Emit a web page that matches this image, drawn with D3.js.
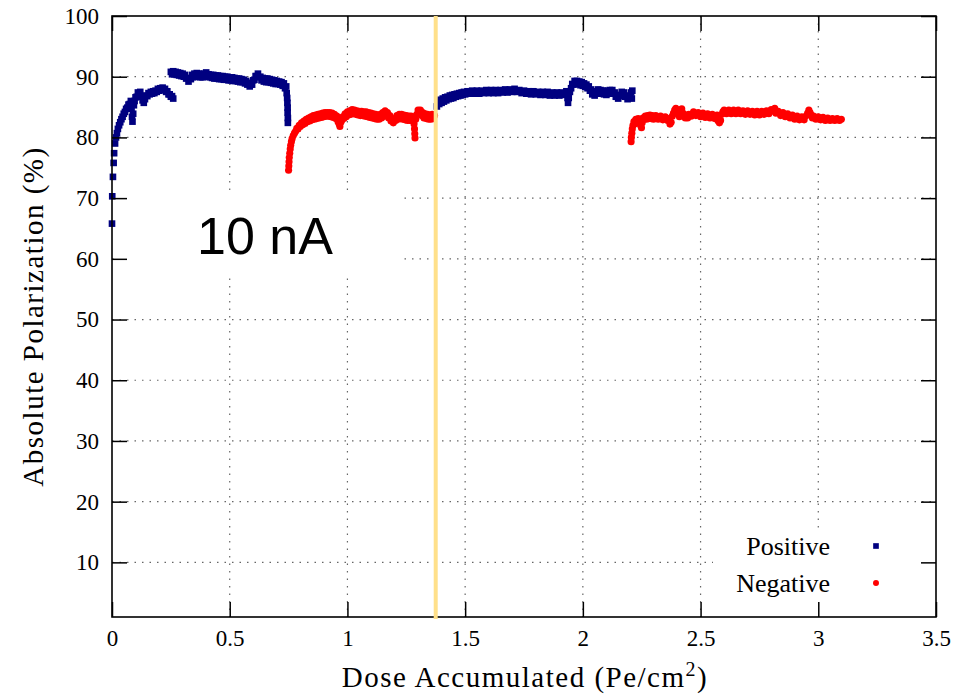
<!DOCTYPE html>
<html>
<head>
<meta charset="utf-8">
<script src="https://cdn.jsdelivr.net/npm/d3@7"></script>
<style>
  body { margin: 0; background: #fff; }
  svg { display: block; }
</style>
</head>
<body>
<svg id="chart"></svg>
<script>
// dose accumulated (Pe/cm^2), absolute polarization (%)
const positiveRun1 = [
  [0.000,65.8],[0.001,70.3],[0.004,73.5],[0.007,75.8],[0.009,77.4],[0.013,79.0],[0.017,80.0],[0.021,80.7],
  [0.025,81.4],[0.030,82.0],[0.035,82.5],[0.040,83.0],[0.045,83.4],[0.050,83.9],[0.055,84.2],[0.060,84.7],
  [0.065,84.9],[0.070,85.4],[0.075,85.5],[0.080,86.0],[0.083,84.7],[0.085,83.4],[0.087,82.6],[0.090,83.9],
  [0.093,85.3],[0.096,86.0],[0.100,86.6],[0.105,86.7],[0.110,87.4],[0.115,87.1],[0.120,87.5],[0.125,86.7],
  [0.130,86.1],[0.135,85.7],[0.140,86.3],[0.145,86.9],[0.150,86.8],[0.155,87.3],[0.160,87.1],[0.165,87.5],
  [0.170,87.2],[0.175,87.6],[0.180,87.3],[0.185,87.7],[0.190,87.5],[0.195,88.0],[0.200,87.7],[0.205,88.1],
  [0.210,87.8],[0.215,88.2],[0.220,87.8],[0.225,88.0],[0.230,87.5],[0.235,87.6],[0.240,87.1],[0.245,87.1],
  [0.250,86.7],[0.255,86.8],[0.260,86.4],
  [0.250,90.8],[0.255,90.4],[0.260,90.9],[0.265,90.4],[0.270,90.8],[0.275,90.3],[0.280,90.7],[0.285,90.2],
  [0.290,90.6],[0.295,90.1],[0.300,90.5],[0.305,90.0],[0.310,90.3],[0.315,89.7],[0.320,89.8],[0.325,89.2],
  [0.330,89.7],[0.335,89.6],[0.340,90.3],[0.345,89.9],[0.350,90.5],[0.355,90.0],[0.360,90.6],[0.365,90.0],
  [0.370,90.5],[0.375,89.9],[0.380,90.4],[0.385,89.9],[0.390,90.5],[0.395,90.1],[0.400,90.7],[0.405,90.0],
  [0.410,90.4],[0.415,89.9],[0.420,90.3],[0.425,89.8],[0.430,90.3],[0.435,89.7],[0.440,90.2],[0.445,89.7],
  [0.450,90.2],[0.455,89.6],[0.460,90.1],[0.465,89.6],[0.470,90.1],[0.475,89.5],[0.480,90.0],[0.485,89.5],
  [0.490,90.0],[0.495,89.4],[0.500,89.9],[0.505,89.4],[0.510,89.9],[0.515,89.3],[0.520,89.8],[0.525,89.3],
  [0.530,89.7],[0.535,89.2],[0.540,89.7],[0.545,89.1],[0.550,89.6],[0.555,89.1],[0.560,89.5],[0.565,88.9],
  [0.570,89.3],[0.575,88.7],[0.580,89.0],[0.585,88.4],[0.590,88.7],[0.595,88.7],[0.600,89.4],[0.605,89.5],
  [0.610,90.1],[0.615,90.1],[0.620,90.5],[0.625,89.9],[0.630,90.0],[0.635,89.4],[0.640,89.8],[0.645,89.2],
  [0.650,89.7],[0.655,89.1],[0.660,89.7],[0.665,89.1],[0.670,89.6],[0.675,89.0],[0.680,89.5],[0.685,88.9],
  [0.690,89.4],[0.695,88.8],[0.700,89.3],[0.705,88.8],[0.710,89.2],[0.715,88.7],[0.720,89.1],[0.725,88.5],
  [0.730,88.9],[0.735,88.1],[0.740,88.4],[0.742,87.3],[0.744,86.5],[0.745,85.7],[0.746,84.9],[0.746,84.1],
  [0.747,83.2],[0.747,82.4]
];

const negativeRun1 = [
  [0.750,74.6],[0.751,75.3],[0.752,76.0],[0.753,76.7],[0.755,77.4],[0.757,78.1],[0.759,78.7],[0.762,79.3],
  [0.765,79.8],[0.770,80.3],[0.775,80.7],[0.780,81.0],[0.785,81.5],[0.790,81.4],[0.795,82.0],[0.800,81.8],
  [0.805,82.4],[0.810,82.1],[0.815,82.7],[0.820,82.3],[0.825,83.0],[0.830,82.6],[0.835,83.2],[0.840,82.7],
  [0.845,83.4],[0.850,82.9],[0.855,83.6],[0.860,83.0],[0.865,83.7],[0.870,83.1],[0.875,83.8],[0.880,83.2],
  [0.885,83.9],[0.890,83.3],[0.895,84.0],[0.900,83.4],[0.905,84.1],[0.910,83.5],[0.915,84.1],[0.920,83.5],
  [0.925,84.1],[0.930,83.4],[0.935,84.0],[0.940,83.3],[0.945,83.8],[0.950,83.1],[0.955,83.5],[0.960,82.6],
  [0.965,82.2],[0.968,81.8],[0.972,82.5],[0.975,82.8],[0.980,83.4],[0.985,83.1],[0.990,83.9],[0.995,83.4],
  [1.000,84.2],[1.005,83.7],[1.010,84.4],[1.015,83.8],[1.020,84.6],[1.025,83.9],[1.030,84.5],[1.035,83.8],
  [1.040,84.4],[1.045,83.7],[1.050,84.3],[1.055,83.6],[1.060,84.3],[1.065,83.6],[1.070,84.2],[1.075,83.5],
  [1.080,84.2],[1.085,83.4],[1.090,84.1],[1.095,83.3],[1.100,84.0],[1.105,83.2],[1.110,83.9],[1.115,83.1],
  [1.120,83.8],[1.125,83.0],[1.130,83.7],[1.135,83.0],[1.140,83.8],[1.145,83.2],[1.150,84.1],[1.155,83.5],
  [1.160,84.4],[1.165,83.6],[1.170,84.1],[1.175,83.2],[1.180,83.6],[1.185,82.7],[1.190,82.8],[1.195,82.4],
  [1.200,83.1],[1.205,82.8],[1.210,83.6],[1.215,83.0],[1.220,83.8],[1.225,83.1],[1.230,83.8],[1.235,83.0],
  [1.240,83.7],[1.245,82.9],[1.250,83.6],[1.255,82.8],[1.260,83.5],[1.265,82.8],[1.270,83.5],[1.275,82.8],
  [1.280,83.4],[1.283,82.2],[1.285,81.4],[1.286,80.6],[1.287,79.9],[1.290,83.0],[1.295,83.8],[1.300,84.5],
  [1.305,83.9],[1.310,84.5],[1.315,83.6],[1.320,84.1],[1.325,83.2],[1.330,83.9],[1.335,83.1],[1.340,83.8],
  [1.345,83.0],[1.350,83.7],[1.355,83.0],[1.360,83.8],[1.365,83.1],[1.370,83.6]
];

const positiveRun2 = [
  [1.380,85.1],[1.383,85.9],[1.390,85.5],[1.395,86.2],[1.400,85.7],[1.405,86.4],[1.410,85.9],[1.415,86.6],
  [1.420,86.1],[1.425,86.7],[1.430,86.3],[1.435,86.9],[1.440,86.4],[1.445,87.0],[1.450,86.5],[1.455,87.1],
  [1.460,86.7],[1.465,87.2],[1.470,86.8],[1.475,87.3],[1.480,86.9],[1.485,87.4],[1.490,87.0],[1.495,87.5],
  [1.500,87.1],[1.510,87.6],[1.520,87.2],[1.530,87.7],[1.540,87.2],[1.550,87.7],[1.560,87.2],[1.570,87.7],
  [1.580,87.3],[1.590,87.8],[1.600,87.3],[1.610,87.8],[1.620,87.3],[1.630,87.8],[1.640,87.3],[1.650,87.8],
  [1.660,87.4],[1.670,87.9],[1.680,87.4],[1.690,87.9],[1.700,87.5],[1.710,88.0],[1.720,87.5],[1.730,87.8],
  [1.740,87.3],[1.750,87.7],[1.760,87.2],[1.770,87.6],[1.780,87.1],[1.790,87.6],[1.800,87.1],[1.810,87.5],
  [1.820,87.0],[1.830,87.5],[1.840,87.0],[1.850,87.5],[1.860,86.9],[1.870,87.4],[1.880,86.9],[1.890,87.4],
  [1.900,86.9],[1.910,87.4],[1.920,87.0],[1.930,87.6],[1.935,86.5],[1.937,85.7],[1.940,86.5],[1.945,87.5],
  [1.950,88.1],[1.955,88.8],[1.960,88.7],[1.965,89.3],[1.970,88.8],[1.975,89.3],[1.980,88.8],[1.985,89.2],
  [1.990,88.6],[1.995,89.1],[2.000,88.5],[2.005,88.9],[2.010,88.3],[2.015,88.7],[2.020,88.1],[2.025,88.4],
  [2.030,87.7],[2.035,87.9],[2.040,87.1],[2.045,87.3],[2.050,86.9],[2.055,87.6],[2.060,87.2],[2.065,87.9],
  [2.070,87.3],[2.075,87.8],[2.080,87.2],[2.085,87.7],[2.090,87.1],[2.095,87.6],[2.100,87.0],[2.105,87.7],
  [2.110,87.2],[2.115,87.8],[2.120,87.3],[2.125,87.8],[2.130,87.2],[2.135,87.4],[2.140,86.7],[2.145,86.8],
  [2.150,86.4],[2.155,87.0],[2.160,86.8],[2.165,87.5],[2.170,87.0],[2.175,87.4],[2.180,86.7],[2.185,86.7],
  [2.190,86.3],[2.195,86.9],[2.200,86.5],[2.205,87.4],[2.208,86.4],[2.210,87.7]
];

const negativeRun2 = [
  [2.205,79.3],[2.206,80.0],[2.208,80.7],[2.210,81.4],[2.213,82.0],[2.217,82.6],[2.220,82.2],[2.225,83.0],
  [2.230,82.5],[2.235,83.1],[2.240,82.4],[2.245,82.0],[2.249,81.6],[2.252,82.4],[2.255,83.2],[2.260,83.0],
  [2.265,83.5],[2.270,83.0],[2.275,83.6],[2.280,83.1],[2.285,83.7],[2.290,83.1],[2.295,83.6],[2.300,83.0],
  [2.310,83.6],[2.320,83.0],[2.330,83.5],[2.340,82.9],[2.350,83.4],[2.360,82.8],[2.365,83.1],[2.370,82.2],
  [2.375,82.5],[2.380,83.5],[2.385,84.0],[2.390,84.5],[2.395,84.8],[2.400,84.0],[2.405,84.2],[2.410,83.4],
  [2.415,84.5],[2.420,84.7],[2.425,84.0],[2.430,83.8],[2.435,83.2],[2.440,83.6],[2.445,83.2],[2.450,83.8],
  [2.460,83.5],[2.470,84.2],[2.480,83.6],[2.490,84.1],[2.500,83.4],[2.510,84.0],[2.520,83.3],[2.530,83.9],
  [2.540,83.2],[2.550,83.8],[2.560,83.1],[2.570,83.7],[2.575,82.7],[2.580,82.4],[2.585,82.8],[2.590,83.8],
  [2.595,84.2],[2.600,84.5],[2.610,83.9],[2.620,84.5],[2.630,83.9],[2.640,84.5],[2.650,83.9],[2.660,84.5],
  [2.670,83.9],[2.680,84.4],[2.690,83.8],[2.700,84.4],[2.710,83.8],[2.720,84.3],[2.730,83.7],[2.740,84.3],
  [2.750,83.7],[2.760,84.3],[2.770,83.8],[2.780,84.4],[2.790,83.9],[2.800,84.6],[2.810,84.3],[2.815,84.8],
  [2.820,84.0],[2.830,84.3],[2.840,83.6],[2.850,84.1],[2.860,83.4],[2.870,83.9],[2.880,83.2],[2.890,83.7],
  [2.900,83.0],[2.910,83.5],[2.920,82.9],[2.930,83.4],[2.940,82.9],[2.950,83.6],[2.955,84.0],[2.960,84.5],
  [2.965,84.1],[2.970,83.7],[2.975,83.2],[2.980,83.5],[2.990,83.0],[3.000,83.4],[3.010,82.9],[3.020,83.3],
  [3.030,82.8],[3.040,83.2],[3.050,82.8],[3.060,83.1],[3.070,82.8],[3.080,83.1],[3.090,82.8],[3.098,83.0]
];

const xTicks = [0, 0.5, 1, 1.5, 2, 2.5, 3, 3.5];
const yTicks = [10, 20, 30, 40, 50, 60, 70, 80, 90, 100];
const markerDose = 1.375;   // vertical reference line
const legendNames = ["Positive", "Negative"];

const width = 956, height = 694;
const margin = {top: 16, right: 20, bottom: 77, left: 112};

const svg = d3.select("#chart")
  .attr("width", width)
  .attr("height", height)
  .attr("viewBox", [0, 0, width, height]);

const x = d3.scaleLinear([0, 3.5], [margin.left, width - margin.right]);
const y = d3.scaleLinear([1, 100], [height - margin.bottom, margin.top]);

const serif = "'Liberation Serif', 'Times New Roman', serif";

// grid
const grid = svg.append("g")
  .attr("stroke", "#666")
  .attr("stroke-width", 1.2)
  .attr("stroke-dasharray", "1.5,6");
grid.selectAll(".gx").data(xTicks.slice(1, -1)).join("line")
  .attr("x1", d => x(d)).attr("x2", d => x(d))
  .attr("y1", y(100)).attr("y2", y(1));
grid.selectAll(".gy").data(yTicks.slice(0, -1)).join("line")
  .attr("x1", x(0)).attr("x2", x(3.5))
  .attr("y1", d => y(d)).attr("y2", d => y(d));

// opaque boxes behind the label and the key
svg.append("rect").attr("x", x(0) + 2).attr("y", 194).attr("width", 403 - x(0) - 2).attr("height", 83).attr("fill", "#fff");
svg.append("rect").attr("x", 713).attr("y", 529).attr("width", x(3.5) - 713).attr("height", y(1) - 529).attr("fill", "#fff");

svg.append("text")
  .attr("x", 197).attr("y", 254)
  .attr("font-family", "'Liberation Sans', Arial, sans-serif")
  .attr("font-size", 52)
  .text("10 nA");

// data
const square = d3.symbol(d3.symbolSquare, 44)();
const dot = d3.symbol(d3.symbolCircle, 40)();
const keySquare = d3.symbol(d3.symbolSquare, 32)();
const keyDot = d3.symbol(d3.symbolCircle, 28)();

const posColor = "#000080", negColor = "#ff0000";

svg.append("g").attr("fill", posColor)
  .selectAll("path").data(positiveRun1.concat(positiveRun2)).join("path")
  .attr("d", square)
  .attr("transform", d => `translate(${x(d[0])},${y(d[1])})`);

svg.append("g").attr("fill", negColor)
  .selectAll("path").data(negativeRun1.concat(negativeRun2)).join("path")
  .attr("d", dot)
  .attr("transform", d => `translate(${x(d[0])},${y(d[1])})`);

// axes (ticks inside, mirrored)
const fmt = d => d3.format("")(d);
const axB = svg.append("g").attr("transform", `translate(0,${y(1)})`)
  .call(d3.axisBottom(x).tickValues(xTicks).tickFormat(fmt).tickSizeInner(-15).tickSizeOuter(0).tickPadding(13));
const axL = svg.append("g").attr("transform", `translate(${x(0)},0)`)
  .call(d3.axisLeft(y).tickValues(yTicks).tickSizeInner(-15).tickSizeOuter(0).tickPadding(13));
const axT = svg.append("g").attr("transform", `translate(0,${y(100)})`)
  .call(d3.axisTop(x).tickValues(xTicks).tickFormat("").tickSizeInner(-15).tickSizeOuter(0));
const axR = svg.append("g").attr("transform", `translate(${x(3.5)},0)`)
  .call(d3.axisRight(y).tickValues(yTicks).tickFormat("").tickSizeInner(-15).tickSizeOuter(0));

[axB, axL, axT, axR].forEach(a => {
  a.select(".domain").remove();
  a.selectAll(".tick line").attr("stroke", "#000").attr("stroke-width", 1.5);
  a.selectAll("text").attr("font-family", serif).attr("font-size", 23).attr("fill", "#000");
});

svg.append("rect")
  .attr("x", x(0)).attr("y", y(100))
  .attr("width", x(3.5) - x(0)).attr("height", y(1) - y(100))
  .attr("fill", "none").attr("stroke", "#000").attr("stroke-width", 1.6);

// yellow reference line
svg.append("line")
  .attr("x1", x(markerDose)).attr("x2", x(markerDose))
  .attr("y1", y(100)).attr("y2", y(1) + 2)
  .attr("stroke", "#ffe08a").attr("stroke-width", 4);

// axis titles
const xt = svg.append("text")
  .attr("x", (x(0) + x(3.5)) / 2 + 1).attr("y", 687)
  .attr("text-anchor", "middle")
  .attr("font-family", serif).attr("font-size", 29).attr("letter-spacing", 1.5);
xt.append("tspan").text("Dose Accumulated (Pe/cm");
xt.append("tspan").attr("font-size", 20).attr("dy", -11).text("2");
xt.append("tspan").attr("dy", 11).text(")");

svg.append("text")
  .attr("transform", `translate(43,${(y(1) + y(100)) / 2}) rotate(-90)`)
  .attr("text-anchor", "middle")
  .attr("font-family", serif).attr("font-size", 29).attr("letter-spacing", 1.5)
  .text("Absolute Polarization (%)");

// key
const key = svg.append("g").attr("font-family", serif).attr("font-size", 26);
key.selectAll("text").data(legendNames).join("text")
  .attr("x", 830).attr("y", (d, i) => 555 + i * 37)
  .attr("text-anchor", "end")
  .text(d => d);
key.append("path").attr("d", keySquare).attr("fill", posColor).attr("transform", "translate(876,546)");
key.append("path").attr("d", keyDot).attr("fill", negColor).attr("transform", "translate(876,583)");
</script>
</body>
</html>
